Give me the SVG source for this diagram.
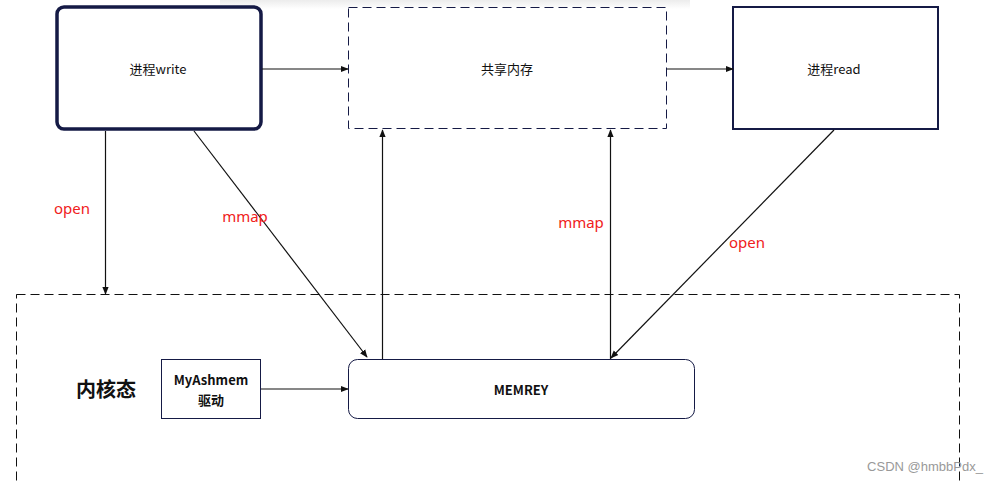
<svg xmlns="http://www.w3.org/2000/svg" width="998" height="482" viewBox="0 0 998 482">
<defs>
<style>
.t{font-family:"Noto Sans CJK SC","Noto Sans",sans-serif;fill:#111;}
.lbl{font-family:"Noto Sans","Noto Sans CJK SC",sans-serif;fill:#f02020;font-size:15px;}
.ln{stroke:#111;stroke-width:1.2;fill:none;}
</style>
<marker id="ar" viewBox="0 0 10 10" refX="9" refY="5" markerWidth="8" markerHeight="8" markerUnits="userSpaceOnUse" orient="auto">
<path d="M0,1 L10,5 L0,9 Z" fill="#111"/>
</marker>
<linearGradient id="sh" x1="0" y1="0" x2="0" y2="1">
<stop offset="0" stop-color="#ececec"/>
<stop offset="1" stop-color="#ffffff"/>
</linearGradient>
</defs>
<rect width="998" height="482" fill="#fff"/>
<rect x="220" y="0" width="470" height="9" fill="url(#sh)"/>
<g id="kernel">
<rect x="16.5" y="294.5" width="943" height="200" fill="none" stroke="#111" stroke-width="1" stroke-dasharray="9,5"/>
<text class="t" x="106" y="397" font-size="20" font-weight="bold" text-anchor="middle">内核态</text>
</g>
<g id="write">
<rect x="57" y="7" width="204" height="122" rx="7" fill="#fff" stroke="#151a45" stroke-width="3.5"/>
<text class="t" x="158" y="74" font-size="13" text-anchor="middle">进程write</text>
</g>
<g id="shm">
<rect x="348.5" y="7.5" width="318" height="121" fill="#fff" stroke="#151a45" stroke-width="1" stroke-dasharray="9,5"/>
<text class="t" x="507" y="74" font-size="13" text-anchor="middle">共享内存</text>
</g>
<g id="read">
<rect x="733" y="7" width="205" height="122" fill="#fff" stroke="#151a45" stroke-width="2"/>
<text class="t" x="834" y="74" font-size="13" text-anchor="middle">进程read</text>
</g>
<g id="driver">
<rect x="161.5" y="359.5" width="99" height="59" fill="#fff" stroke="#151a45" stroke-width="1"/>
<text class="t" x="211" y="385" font-size="13" font-weight="bold" text-anchor="middle">MyAshmem</text>
<text class="t" x="211" y="405" font-size="13" font-weight="bold" text-anchor="middle">驱动</text>
</g>
<g id="memrey">
<rect x="348.5" y="359.5" width="346" height="59" rx="9" fill="#fff" stroke="#151a45" stroke-width="1"/>
<text class="t" x="521" y="395" font-size="13" font-weight="bold" text-anchor="middle">MEMREY</text>
</g>
<g id="connectors">
<line class="ln" x1="262" y1="69" x2="348" y2="69" marker-end="url(#ar)"/>
<line class="ln" x1="667" y1="69" x2="733" y2="69" marker-end="url(#ar)"/>
<line class="ln" x1="105.5" y1="131" x2="105.5" y2="294" marker-end="url(#ar)"/>
<line class="ln" x1="194" y1="131" x2="367" y2="357" stroke-width="0.9" marker-end="url(#ar)"/>
<line class="ln" x1="382.5" y1="359" x2="382.5" y2="130" marker-end="url(#ar)"/>
<line class="ln" x1="610.5" y1="359" x2="610.5" y2="130" marker-end="url(#ar)"/>
<line class="ln" x1="834" y1="130" x2="611" y2="358" stroke-width="0.9" stroke="#555" marker-end="url(#ar)"/>
<line class="ln" x1="261" y1="389" x2="348" y2="389" marker-end="url(#ar)"/>
<text class="lbl" x="72" y="214" text-anchor="middle">open</text>
<text class="lbl" x="245" y="222" text-anchor="middle">mmap</text>
<text class="lbl" x="581" y="228" text-anchor="middle">mmap</text>
<text class="lbl" x="747" y="248" text-anchor="middle">open</text>
</g>
<text x="925" y="471" font-family="Liberation Sans,sans-serif" font-size="13" fill="#999" text-anchor="middle">CSDN @hmbbPdx_</text>
</svg>
